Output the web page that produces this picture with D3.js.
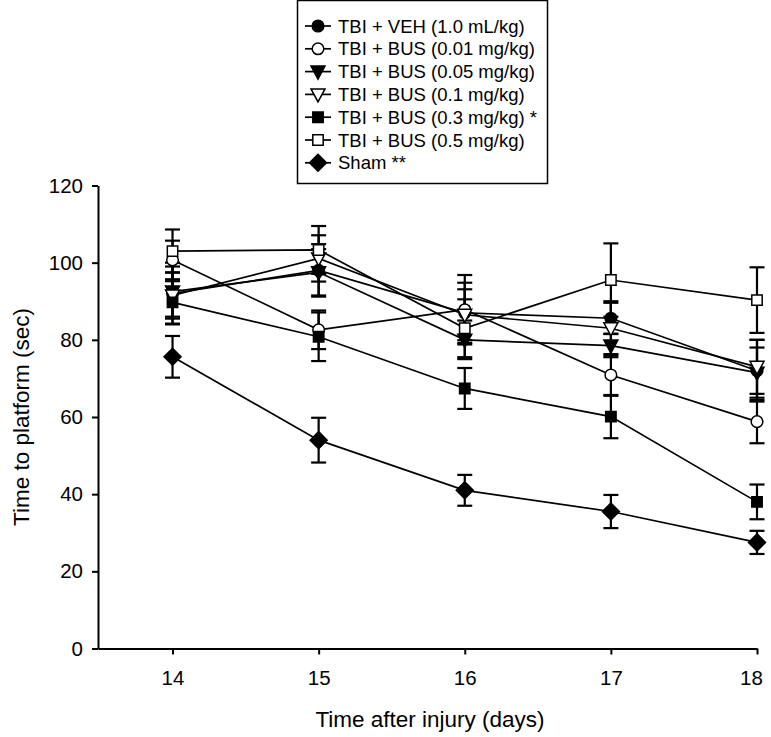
<!DOCTYPE html>
<html>
<head>
<meta charset="utf-8">
<script src="https://cdn.jsdelivr.net/npm/d3@7"></script>
<style>
  html, body { margin: 0; padding: 0; background: #fff; }
  svg { display: block; font-family: "Liberation Sans", Arial, sans-serif; }
</style>
</head>
<body>
<svg id="chart" width="771" height="737"></svg>
<script>
// ---- data ----
const days = [14, 15, 16, 17, 18];
const yTicks = [0, 20, 40, 60, 80, 100, 120];
const seriesNames = [
  "TBI + VEH (1.0 mL/kg)",
  "TBI + BUS (0.01 mg/kg)",
  "TBI + BUS (0.05 mg/kg)",
  "TBI + BUS (0.1 mg/kg)",
  "TBI + BUS (0.3 mg/kg) *",
  "TBI + BUS (0.5 mg/kg)",
  "Sham **"
];
const vehMean    = [92.0, 98.0, 87.0, 85.6, 72.0];
const vehErr     = [8.0, 6.8, 7.8, 4.0, 8.0];
const bus001Mean = [100.7, 82.6, 87.8, 70.9, 58.8];
const bus001Err  = [5.0, 5.0, 9.0, 5.4, 5.6];
const bus005Mean = [92.5, 97.5, 80.0, 78.5, 71.5];
const bus005Err  = [6.5, 6.0, 5.0, 3.0, 6.5];
const bus01Mean  = [91.5, 101.1, 86.5, 83.0, 73.0];
const bus01Err   = [6.0, 6.0, 6.6, 7.0, 7.0];
const bus03Mean  = [89.7, 80.8, 67.4, 60.1, 38.0];
const bus03Err   = [5.5, 6.3, 5.3, 5.6, 4.5];
const bus05Mean  = [103.0, 103.3, 83.0, 95.5, 90.3];
const bus05Err   = [5.6, 6.2, 7.5, 9.5, 8.5];
const shamMean   = [75.6, 54.0, 41.0, 35.5, 27.5];
const shamErr    = [5.4, 5.8, 4.0, 4.3, 3.0];

const means = [vehMean, bus001Mean, bus005Mean, bus01Mean, bus03Mean, bus05Mean, shamMean];
const errs  = [vehErr, bus001Err, bus005Err, bus01Err, bus03Err, bus05Err, shamErr];
// marker style per series
const symbols = ["circle", "circle", "tri", "tri", "square", "square", "diamond"];
const filled  = [true, false, true, false, true, false, true];

// ---- layout ----
const svg = d3.select("#chart");
const x = d3.scaleLinear().domain([13.49, 18]).range([98, 757]);
const y = d3.scaleLinear().domain([0, 120]).range([648.5, 185.5]);

// axes
const yAxis = d3.axisLeft(y).tickValues(yTicks).tickSize(6).tickPadding(9).tickSizeOuter(0)
  .tickFormat(d3.format("d"));
const gy = svg.append("g").attr("transform", `translate(${x.range()[0]},0)`).call(yAxis);
gy.selectAll("text").style("font-size", "20.5px").attr("fill", "#000");
gy.selectAll("path,line").attr("stroke", "#000").attr("stroke-width", 2);

const xAxis = d3.axisBottom(x).tickValues(days).tickSize(6).tickPadding(16).tickSizeOuter(0)
  .tickFormat(d3.format("d"));
const gx = svg.append("g").attr("transform", `translate(0,${y(0)})`).call(xAxis);
gx.selectAll("text").style("font-size", "20.5px").attr("fill", "#000");
gx.selectAll(".tick").filter(d => d === 18).select("text").attr("dx", "-6");
gx.selectAll("path,line").attr("stroke", "#000").attr("stroke-width", 2);

svg.append("text")
  .attr("x", 430).attr("y", 727)
  .attr("text-anchor", "middle")
  .style("font-size", "22.5px")
  .text("Time after injury (days)");
svg.append("text")
  .attr("transform", `translate(29,417) rotate(-90)`)
  .attr("text-anchor", "middle")
  .style("font-size", "22.5px")
  .text("Time to platform (sec)");

function symPath(type, cx, cy) {
  if (type === "square") {
    const h = 5.2;
    return `M${cx-h},${cy-h}H${cx+h}V${cy+h}H${cx-h}Z`;
  }
  if (type === "tri") {
    const w = 7, up = 5.5, dn = 7.5;
    return `M${cx-w},${cy-up}H${cx+w}L${cx},${cy+dn}Z`;
  }
  if (type === "diamond") {
    const w = 8.5, h = 8.5;
    return `M${cx},${cy-h}L${cx+w},${cy}L${cx},${cy+h}L${cx-w},${cy}Z`;
  }
  return null;
}
function drawMarker(g, type, fill, cx, cy) {
  if (type === "circle") {
    g.append("circle").attr("cx", cx).attr("cy", cy).attr("r", 5.8)
      .attr("fill", fill ? "#000" : "#fff").attr("stroke", "#000").attr("stroke-width", 1.5);
  } else {
    g.append("path").attr("d", symPath(type, cx, cy))
      .attr("fill", fill ? "#000" : "#fff").attr("stroke", "#000").attr("stroke-width", 1.5);
  }
}

const line = d3.line().x((d, i) => x(days[i])).y(d => y(d));

// lines
const gl = svg.append("g");
means.forEach(m => {
  gl.append("path").attr("d", line(m)).attr("fill", "none")
    .attr("stroke", "#000").attr("stroke-width", 1.7);
});
// error bars
const ge = svg.append("g").attr("stroke", "#000").attr("stroke-width", 2.2);
means.forEach((m, s) => {
  m.forEach((v, i) => {
    const cx = x(days[i]);
    const top = y(v + errs[s][i]), bot = y(v - errs[s][i]);
    ge.append("line").attr("x1", cx).attr("x2", cx).attr("y1", top).attr("y2", bot);
    ge.append("line").attr("x1", cx - 7.5).attr("x2", cx + 7.5).attr("y1", top).attr("y2", top);
    ge.append("line").attr("x1", cx - 7.5).attr("x2", cx + 7.5).attr("y1", bot).attr("y2", bot);
  });
});
// markers
const gm = svg.append("g");
means.forEach((m, s) => {
  m.forEach((v, i) => drawMarker(gm, symbols[s], filled[s], x(days[i]), y(v)));
});

// legend
const lg = svg.append("g");
lg.append("rect").attr("x", 297.5).attr("y", 0.5).attr("width", 250).attr("height", 183)
  .attr("fill", "#fff").attr("stroke", "#000").attr("stroke-width", 1.5);
seriesNames.forEach((name, s) => {
  const ly = 26 + s * 22.8;
  lg.append("line").attr("x1", 305).attr("x2", 331).attr("y1", ly).attr("y2", ly)
    .attr("stroke", "#000").attr("stroke-width", 1.7);
  drawMarker(lg, symbols[s], filled[s], 318, ly);
  lg.append("text").attr("x", 338).attr("y", ly + 6.5)
    .style("font-size", "18.5px").text(name);
});
</script>
</body>
</html>
